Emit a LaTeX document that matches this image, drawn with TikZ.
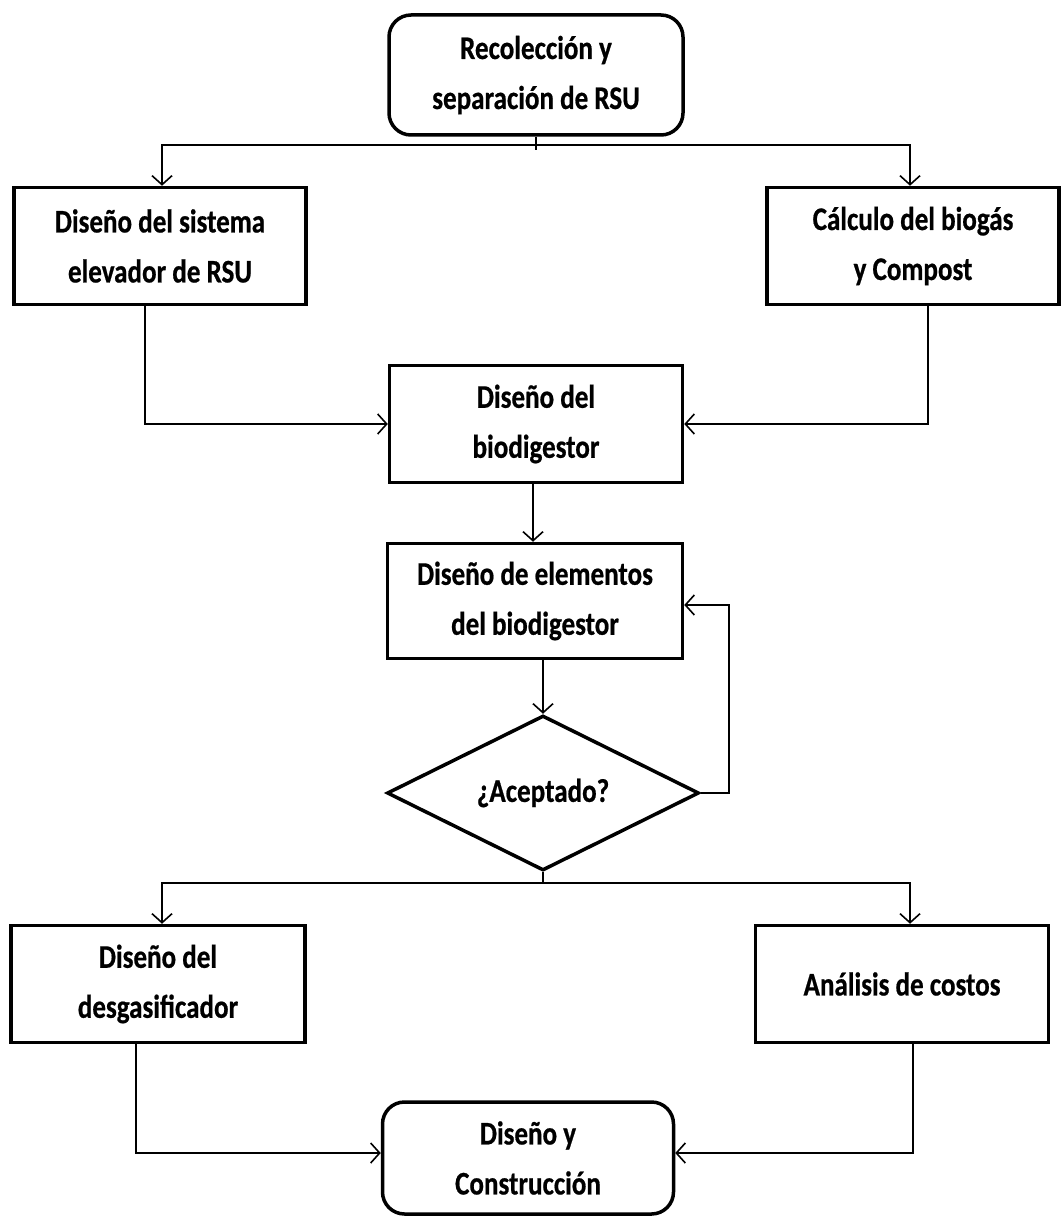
\documentclass[tikz,border=0pt]{standalone}
\usepackage{fontspec}
\setmainfont{Carlito}[FakeStretch=0.82,BoldFeatures={FakeBold=0.6}]
\usetikzlibrary{arrows.meta,shapes.geometric}

\tikzset{
  caja/.style={draw,line width=3.5pt,minimum width=292pt,minimum height=117pt,align=center,font=\fontsize{33}{50}\selectfont\bfseries,inner sep=0pt},
  terminal/.style={caja,rounded corners=22pt},
  decision/.style={draw,diamond,line width=3.5pt,minimum width=312pt,minimum height=155pt,aspect=2,inner sep=0pt,font=\fontsize{33}{50}\selectfont\bfseries},
  flecha/.style={line width=2.4pt,-{Straight Barb[length=9pt,width=20pt,line width=1.6pt]}},
  linea/.style={line width=2.4pt}
}

\begin{document}
\begin{tikzpicture}[x=1pt,y=-1pt]
  \fill[white] (0,0) rectangle (1061,1217);
  \useasboundingbox (0,0) rectangle (1061,1217);

  \node[terminal,minimum width=294pt,minimum height=120pt] (rec) at (536,75) {Recolección y\\separación de RSU};
  \node[caja] (elev) at (160,246) {Diseño del sistema\\elevador de RSU};
  \node[caja] (calc) at (913,246) {Cálculo del biogás\\y Compost};
  \node[caja,minimum width=293pt] (bio) at (536,424) {Diseño del\\biodigestor};
  \node[caja,minimum width=295pt,minimum height=115pt] (elem) at (535,601) {Diseño de elementos\\del biodigestor};
  \node[decision] (acep) at (543,793) {¿Aceptado?};
  \node[caja,minimum width=294pt] (desg) at (158,984) {Diseño del\\desgasificador};
  \node[caja,minimum width=293pt] (cost) at (902,984) {Análisis de costos};
  \node[terminal,minimum width=291pt,minimum height=112pt] (fin) at (528,1158) {Diseño y\\Construcción};

  \coordinate (r1) at (536,145);
  \coordinate (r2) at (543,883);

  \draw[linea] (rec.south) -- ++(0,13);
  \draw[flecha] (r1) -| ([xshift=2pt]elev.north);
  \draw[flecha] (r1) -| ([xshift=-3pt]calc.north);
  \draw[flecha] ([xshift=-15pt]elev.south) |- (bio.west);
  \draw[flecha] ([xshift=15pt]calc.south) |- (bio.east);
  \draw[flecha] ([xshift=-3pt]bio.south) -- ([xshift=-2pt]elem.north);
  \draw[flecha] (acep.north |- elem.south) -- (acep.north);
  \draw[flecha] (acep.east) -- ++(28,0) |- ([yshift=-4pt]elem.east);
  \draw[linea] (acep.south) -- (r2);
  \draw[flecha] (r2) -| ([xshift=4pt]desg.north);
  \draw[flecha] (r2) -| ([xshift=8pt]cost.north);
  \draw[flecha] ([xshift=-22pt]desg.south) |- ([yshift=5pt]fin.west);
  \draw[flecha] ([xshift=11pt]cost.south) |- ([yshift=5pt]fin.east);
\end{tikzpicture}
\end{document}
